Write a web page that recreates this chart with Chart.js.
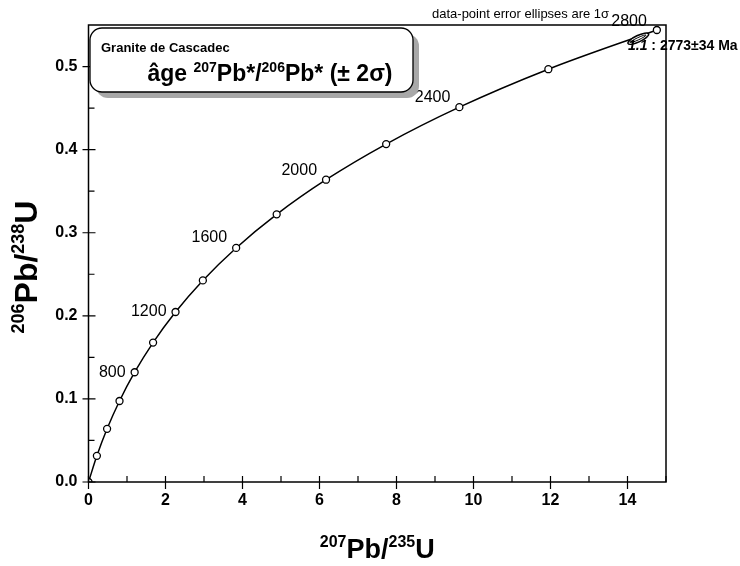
<!DOCTYPE html>
<html>
<head>
<meta charset="utf-8">
<script src="https://cdn.jsdelivr.net/npm/chart.js@4.4.1/dist/chart.umd.min.js"></script>
<style>
  body { margin: 0; background: #fff; }
  canvas { display: block; }
</style>
</head>
<body>
<canvas id="concordia" width="740" height="566"></canvas>
<script>
// concordia curve, one point every 200 Ma
const ages = [0, 200, 400, 600, 800, 1000, 1200, 1400, 1600, 1800, 2000, 2200, 2400, 2600, 2800];
const pb207u235 = [0, 0.2177, 0.4828, 0.8056, 1.1987, 1.6774, 2.2604, 2.9704, 3.8350, 4.8878, 6.1700, 7.7313, 9.6327, 11.9445, 14.7630];
const pb206u238 = [0, 0.0315, 0.0640, 0.0975, 0.1321, 0.1678, 0.2046, 0.2426, 0.2817, 0.3221, 0.3638, 0.4067, 0.4511, 0.4968, 0.5440];
const labelledAges = [800, 1200, 1600, 2000, 2400, 2800];

const xTicks = [0, 2, 4, 6, 8, 10, 12, 14];
const yTicks = [0, 0.1, 0.2, 0.3, 0.4, 0.5];

// zircon 1.1 (1 sigma ellipse)
const spotName = '1.1';
const spotAge = '2773±34 Ma';
const spotX = 14.28, spotSX = 0.27;
const spotY = 0.5335, spotSY = 0.0068;
const spotRho = 0.78;

const FONT = '"Liberation Sans", Arial, sans-serif';

// draw text with superscript pieces, e.g. [['207', true], ['Pb', false]]
function richWidth(ctx, parts, size, supSize) {
    let w = 0;
    for (const [t, sup] of parts) {
        ctx.font = 'bold ' + (sup ? supSize : size) + 'px ' + FONT;
        w += ctx.measureText(t).width;
    }
    return w;
}
function drawRich(ctx, parts, x, y, size, supSize, align) {
    let w = richWidth(ctx, parts, size, supSize);
    let cx = align === 'center' ? x - w / 2 : x;
    ctx.textAlign = 'left';
    ctx.textBaseline = 'alphabetic';
    for (const [t, sup] of parts) {
        ctx.font = 'bold ' + (sup ? supSize : size) + 'px ' + FONT;
        ctx.fillText(t, cx, sup ? y - size * 0.4 : y);
        cx += ctx.measureText(t).width;
    }
}

const labelOffsets = {
    800: [-9, 0, 'middle'],
    1200: [-9, 0, 'middle'],
    1600: [-9, -10, 'middle'],
    2000: [-9, -9, 'middle'],
    2400: [-9, -10, 'middle'],
    2800: [-10, -4, 'alphabetic']
};

const decorations = {
    id: 'decorations',
    afterDatasetsDraw(chart) {
        const ctx = chart.ctx;
        const area = chart.chartArea;
        const xs = chart.scales.x, ys = chart.scales.y;
        ctx.save();
        ctx.strokeStyle = '#000';
        ctx.fillStyle = '#000';

        // frame
        ctx.lineWidth = 1.5;
        ctx.strokeRect(area.left, area.top, area.right - area.left, area.bottom - area.top);

        // tick marks: major cross the axis, minor inside
        ctx.lineWidth = 1.2;
        ctx.beginPath();
        for (let v = 0; v <= 15; v++) {
            const px = xs.getPixelForValue(v);
            if (v % 2 === 0) { ctx.moveTo(px, area.bottom - 6); ctx.lineTo(px, area.bottom + 7); }
            else { ctx.moveTo(px, area.bottom - 6); ctx.lineTo(px, area.bottom); }
        }
        for (let i = 0; i <= 10; i++) {
            const py = ys.getPixelForValue(i * 0.05);
            if (i % 2 === 0) { ctx.moveTo(area.left - 6, py); ctx.lineTo(area.left + 7, py); }
            else { ctx.moveTo(area.left, py); ctx.lineTo(area.left + 6, py); }
        }
        ctx.stroke();

        // error ellipse (outline drawn twice for the double-line look)
        const kx = xs.getPixelForValue(1) - xs.getPixelForValue(0);
        const ky = ys.getPixelForValue(1) - ys.getPixelForValue(0);
        const a = Math.pow(spotSX * kx, 2), c = Math.pow(spotSY * ky, 2);
        const b = spotRho * spotSX * spotSY * kx * ky;
        const m = (a + c) / 2, d = Math.sqrt(Math.pow((a - c) / 2, 2) + b * b);
        const theta = 0.5 * Math.atan2(2 * b, a - c);
        const ex = xs.getPixelForValue(spotX), ey = ys.getPixelForValue(spotY);
        const r1 = Math.sqrt(m + d), r2 = Math.sqrt(Math.max(m - d, 0.5));
        ctx.fillStyle = '#fff';
        ctx.lineWidth = 1.5;
        ctx.beginPath();
        ctx.ellipse(ex, ey, r1, r2, theta, 0, Math.PI * 2);
        ctx.fill();
        ctx.stroke();
        ctx.lineWidth = 1;
        ctx.beginPath();
        ctx.ellipse(ex, ey, r1 * 0.75, r2 * 0.35, theta, 0, Math.PI * 2);
        ctx.stroke();
        ctx.fillStyle = '#000';

        // age labels on the concordia
        ctx.font = '16px ' + FONT;
        ctx.textAlign = 'right';
        for (const age of labelledAges) {
            const i = ages.indexOf(age);
            const o = labelOffsets[age];
            ctx.textBaseline = o[2];
            ctx.fillText(String(age), xs.getPixelForValue(pb207u235[i]) + o[0], ys.getPixelForValue(pb206u238[i]) + o[1]);
        }

        // spot label
        ctx.textBaseline = 'alphabetic';
        ctx.textAlign = 'left';
        ctx.font = 'bold italic 14px ' + FONT;
        ctx.fillText(spotName, 628, 50);
        const w1 = ctx.measureText(spotName).width;
        ctx.font = 'bold 14px ' + FONT;
        ctx.fillText(' : ' + spotAge, 628 + w1, 50);

        // note above the frame
        ctx.font = '13px ' + FONT;
        ctx.fillText('data-point error ellipses are 1σ', 432, 18);
        ctx.restore();
    },
    afterDraw(chart) {
        const ctx = chart.ctx;
        const area = chart.chartArea;
        ctx.save();
        // title box with shadow
        const bx = 90, by = 28, bw = 323, bh = 64, r = 12;
        ctx.fillStyle = '#a8a8a8';
        ctx.beginPath();
        ctx.roundRect(bx + 6, by + 6, bw, bh, r);
        ctx.fill();
        ctx.fillStyle = '#fff';
        ctx.strokeStyle = '#000';
        ctx.lineWidth = 1.3;
        ctx.beginPath();
        ctx.roundRect(bx, by, bw, bh, r);
        ctx.fill();
        ctx.stroke();

        ctx.fillStyle = '#000';
        ctx.font = 'bold 13px ' + FONT;
        ctx.textAlign = 'left';
        ctx.textBaseline = 'alphabetic';
        ctx.fillText('Granite de Cascadec', 101, 52);
        drawRich(ctx, [['âge ', false], ['207', true], ['Pb*/', false], ['206', true], ['Pb* (± 2σ)', false]],
            270, 81, 23, 14, 'center');

        // axis titles
        drawRich(ctx, [['207', true], ['Pb/', false], ['235', true], ['U', false]],
            (area.left + area.right) / 2, 558, 27, 16, 'center');
        ctx.translate(37, 267);
        ctx.rotate(-Math.PI / 2);
        drawRich(ctx, [['206', true], ['Pb/', false], ['238', true], ['U', false]],
            0, 0, 32, 18, 'center');
        ctx.restore();
    }
};

const points = pb207u235.map((x, i) => ({x: x, y: pb206u238[i]}));

new Chart(document.getElementById('concordia'), {
    type: 'line',
    data: {
        datasets: [{
            label: 'Concordia',
            data: points,
            borderColor: '#000',
            borderWidth: 1.5,
            cubicInterpolationMode: 'monotone',
            pointRadius: 3.5,
            pointBackgroundColor: '#fff',
            pointBorderColor: '#000',
            pointBorderWidth: 1.3,
            fill: false
        }]
    },
    options: {
        responsive: false,
        animation: false,
        layout: { padding: { top: 25, right: 74, left: 0, bottom: 0 } },
        plugins: { legend: { display: false }, tooltip: { enabled: false } },
        scales: {
            x: {
                type: 'linear',
                min: 0,
                max: 15,
                afterBuildTicks: s => { s.ticks = xTicks.map(v => ({value: v})); },
                afterFit: s => { s.height = 84; },
                grid: { display: false, drawTicks: false },
                border: { display: false },
                ticks: {
                    padding: 9,
                    color: '#000',
                    font: { family: FONT, size: 16, weight: 'bold' }
                }
            },
            y: {
                type: 'linear',
                min: 0,
                max: 0.55,
                afterBuildTicks: s => { s.ticks = yTicks.map(v => ({value: v})); },
                afterFit: s => { s.width = 88.5; },
                grid: { display: false, drawTicks: false },
                border: { display: false },
                ticks: {
                    padding: 11,
                    color: '#000',
                    font: { family: FONT, size: 16, weight: 'bold' },
                    callback: v => v.toFixed(1)
                }
            }
        }
    },
    plugins: [decorations]
});
</script>
</body>
</html>
